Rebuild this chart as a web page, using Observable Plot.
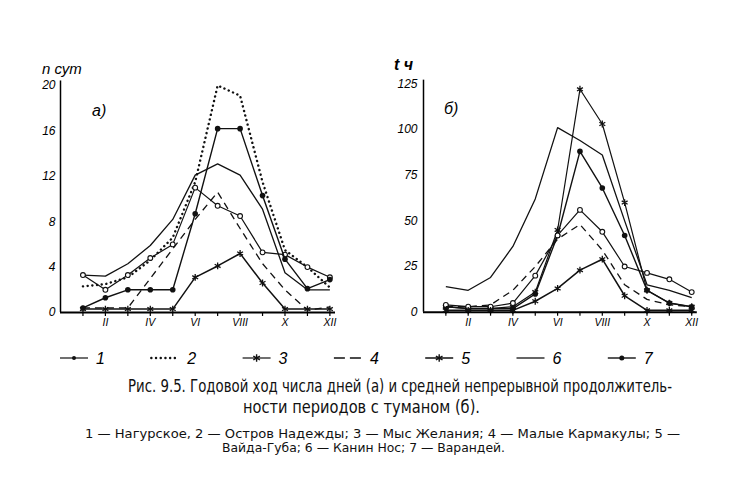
<!DOCTYPE html>
<html><head><meta charset="utf-8">
<script src="https://cdn.jsdelivr.net/npm/d3@7"></script>
<script src="https://cdn.jsdelivr.net/npm/@observablehq/plot@0.6"></script>
<style>
body{margin:0;background:#fff;width:755px;height:477px;position:relative;overflow:hidden;}
#a,#b{position:absolute;top:60px}
#a{left:0px}
#b{left:365px}
#overlay{position:absolute;left:0;top:0;pointer-events:none}
</style>
</head><body>
<div id="a"></div><div id="b"></div>
<svg id="overlay" width="755" height="477"></svg>
<script>
// ---- data ----
const months = [1,2,3,4,5,6,7,8,9,10,11,12];
const tickMonths = [2,4,6,8,10,12];
const tickLabels = ["II","IV","VI","VIII","X","XII"];
const ticksA = [0,4,8,12,16,20];
const ticksB = [0,25,50,75,100,125];

// panel а) — number of days with fog
const a1 = [3.3,2.0,3.3,4.8,6.0,11.0,9.4,8.5,5.3,5.1,4.0,3.1];
const a2 = [2.3,2.5,3.1,4.6,6.6,11.5,20.0,19.1,11.5,5.5,4.0,2.2];
const a4 = [0.4,0.4,0.4,3.0,5.6,8.2,10.6,7.4,4.3,2.0,0.2,0.5];
const a5 = [0.3,0.3,0.3,0.3,0.3,3.1,4.1,5.2,2.6,0.3,0.3,0.3];
const a6 = [3.3,3.2,4.3,5.9,8.2,12.1,13.1,12.1,9.1,3.5,2.0,2.0];
const a7 = [0.4,1.3,2.0,2.0,2.0,8.7,16.2,16.2,10.3,4.7,2.1,2.9];

// panel б) — mean continuous duration of fog periods, hours
const b1 = [4,3,3,5,20,42,56,44,25,21.5,18,11];
const b3 = [3,2,2,3,11,45,122,103,60,12,5,3];
const b4 = [3,3,4,12,25,40,48,34,15,7,4,3];
const b5 = [1,1,1,1,6,13,23,29,9,1,1,1];
const b6 = [14,12,19,36,62,101,94,86,50,15,12,8];
const b7 = [3,2,2,2,10,42,88,68,42,12,5,3];

const legendKeys = ["1","2","3","4","5","6","7"];
const captionLines = [
  "Рис. 9.5. Годовой ход числа дней (а) и средней непрерывной продолжитель-",
  "ности периодов с туманом (б).",
  "1 — Нагурское, 2 — Остров Надежды; 3 — Мыс Желания; 4 — Малые Кармакулы; 5 —",
  "Вайда-Губа; 6 — Канин Нос; 7 — Варандей."
];

// ---- styles (by series key) ----
const style = {
  "1": {w:1.2, marker:"circleOpen"},
  "2": {w:2.4, dash:"0.1,4.6", cap:"round"},
  "3": {w:1.2, marker:"asterisk"},
  "4": {w:1.3, dash:"7,5"},
  "5": {w:1.5, marker:"asterisk"},
  "6": {w:1.3},
  "7": {w:1.4, marker:"dot"}
};

function panel(series, yDomain, yTop, yTicks, m) {
  const marks = [
    Plot.ruleY([0], {x1: 0, x2: 12.25, stroke:"#000", strokeWidth: 2}),
    Plot.ruleX([0], {y1: 0, y2: yTop, stroke:"#000", strokeWidth: 1.5})
  ];
  for (const [key, vals] of series) {
    const st = style[key];
    const data = vals.map((v,i)=>({month: months[i], value: v}));
    marks.push(Plot.line(data, {x:"month", y:"value", stroke:"#111", strokeWidth: st.w,
      strokeDasharray: st.dash, strokeLinecap: st.cap || "butt", strokeLinejoin:"round"}));
    if (st.marker === "circleOpen") marks.push(Plot.dot(data, {x:"month", y:"value", r:2.4, fill:"white", stroke:"#111", strokeWidth:1.1}));
    if (st.marker === "dot") marks.push(Plot.dot(data, {x:"month", y:"value", r:2.8, fill:"#111", stroke:"none"}));
    if (st.marker === "asterisk") marks.push(Plot.dot(data, {x:"month", y:"value", r:3.2, symbol:"asterisk", stroke:"#111", strokeWidth:1.3}));
  }
  marks.push(Plot.axisX({ticks: months, tickSize: 4, tickPadding: 2, strokeWidth: 1.2, label: null,
    tickFormat: d => { const i = tickMonths.indexOf(d); return i >= 0 ? tickLabels[i] : ""; },
    fontSize: 10.5, fontStyle:"italic"}));
  marks.push(Plot.axisY({ticks: yTicks, tickSize: 0, tickPadding: m.pad, label: null, fontSize: 12, fontStyle:"italic"}));
  return Plot.plot({
    width: 345, height: 280,
    marginLeft: m.left, marginRight: m.right, marginTop: m.top, marginBottom: m.bottom,
    x: {domain: [0, 12.25], axis: null},
    y: {domain: yDomain, axis: null},
    style: {fontFamily: "Liberation Sans, Arial, sans-serif", color: "#000", background: "white"},
    marks
  });
}

document.getElementById("a").append(panel(
  [["6",a6],["2",a2],["1",a1],["4",a4],["7",a7],["5",a5]],
  [0,20], 20.4, ticksA, {left:60, right:10, top:25, bottom:28, pad:5}));
document.getElementById("b").append(panel(
  [["6",b6],["3",b3],["7",b7],["1",b1],["4",b4],["5",b5]],
  [0,125], 127, ticksB, {left:58, right:13.2, top:23.3, bottom:28.3, pad:6}));

// ---- overlay text & legend ----
const svg = d3.select("#overlay");
const ital = "Liberation Sans, Arial, sans-serif";
svg.append("text").attr("x",42).attr("y",74).attr("font-family",ital).attr("font-style","italic")
  .attr("font-size",15).text("n сут");
svg.append("text").attr("x",394).attr("y",70).attr("font-family",ital).attr("font-style","italic")
  .attr("font-weight","bold").attr("font-size",16).text("t ч");
svg.append("text").attr("x",92).attr("y",116).attr("font-family",ital).attr("font-style","italic")
  .attr("font-size",16).text("а)");
svg.append("text").attr("x",444).attr("y",114).attr("font-family",ital).attr("font-style","italic")
  .attr("font-size",16).text("б)");

// legend
const lg = svg.append("g");
legendKeys.forEach((k,i) => {
  const x0 = 60 + 91.3*i, y0 = 358, st = style[k];
  lg.append("line").attr("x1",x0).attr("x2",x0+28).attr("y1",y0).attr("y2",y0)
    .attr("stroke","#111").attr("stroke-width",st.w)
    .attr("stroke-dasharray", k==="4" ? "11,5" : st.dash || null)
    .attr("stroke-linecap", st.cap || "butt");
  if (st.marker === "circleOpen") lg.append("circle").attr("cx",x0+14).attr("cy",y0).attr("r",2).attr("fill","#111");
  if (st.marker === "dot") lg.append("circle").attr("cx",x0+14).attr("cy",y0).attr("r",2.5).attr("fill","#111");
  if (st.marker === "asterisk") lg.append("path").attr("transform",`translate(${x0+14},${y0})`)
    .attr("d", d3.symbol(d3.symbolAsterisk, 40)()).attr("stroke","#111").attr("stroke-width",1.4).attr("fill","none");
  lg.append("text").attr("x",x0+36).attr("y",y0+6).attr("font-family",ital).attr("font-style","italic")
    .attr("font-size",16).text(k);
});

// caption
const capFont = "Liberation Sans Narrow, DejaVu Sans Condensed, Liberation Sans, sans-serif";
function capLine(x, y, len, size, str) {
  svg.append("text").attr("x",x).attr("y",y).attr("font-family",capFont).attr("font-size",size)
    .attr("textLength",len).attr("lengthAdjust","spacingAndGlyphs").attr("fill","#111").text(str);
}
capLine(128, 392, 544, 17, captionLines[0]);
capLine(243, 413, 237, 17, captionLines[1]);
capLine(85, 438, 595, 13, captionLines[2]);
capLine(222, 452, 283, 13, captionLines[3]);
</script>
</body></html>
